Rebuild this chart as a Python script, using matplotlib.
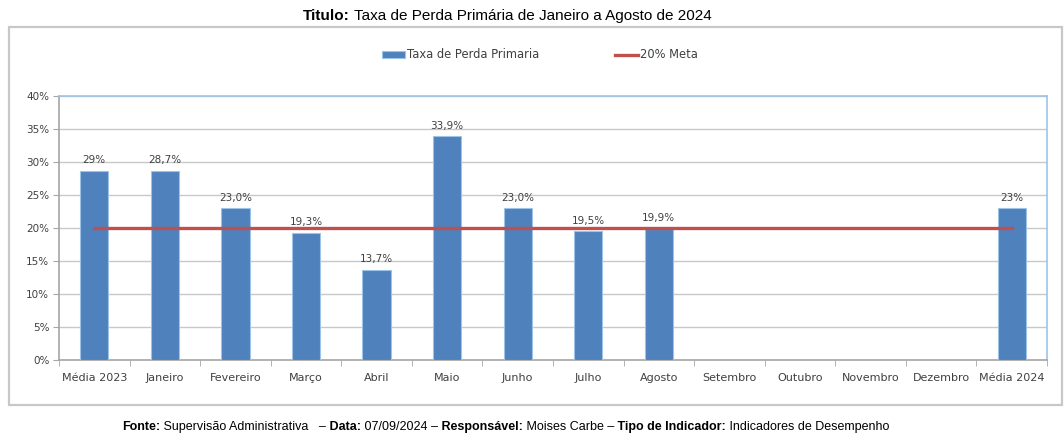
import numpy as np
import matplotlib
matplotlib.use("Agg")
import matplotlib.pyplot as plt
from matplotlib.patches import Rectangle

categorias = ["Média 2023", "Janeiro", "Fevereiro", "Março", "Abril", "Maio", "Junho",
              "Julho", "Agosto", "Setembro", "Outubro", "Novembro", "Dezembro", "Média 2024"]
taxa_perda = [28.7, 28.7, 23.0, 19.3, 13.7, 33.9, 23.0, 19.5, 19.9,
              np.nan, np.nan, np.nan, np.nan, 23.0]
eh_media = [True] + [False] * 12 + [True]
meta = [20] * 14
y_ticks = [0, 5, 10, 15, 20, 25, 30, 35, 40]

AZUL = "#4F81BD"
VERMELHO = "#C0504D"
CINZA_TXT = "#404040"
FONTE_TXT = ["Liberation Sans", "DejaVu Sans"]

plt.rcParams["font.family"] = ["DejaVu Sans"]

fig = plt.figure(figsize=(10.64, 4.36), dpi=100)

# moldura externa do grafico
W, H = 1064, 436
fig.patches.append(Rectangle((9 / W, 1 - 405 / H), 1053 / W, 378 / H,
                             transform=fig.transFigure, fill=False,
                             edgecolor="#C8C8C8", linewidth=1.6))

ax = fig.add_axes([59 / W, 1 - 360 / H, 988 / W, 264 / H])
x = np.arange(len(categorias))

bars = ax.bar(x, taxa_perda, width=0.4, color=AZUL, edgecolor="#9DC3E6",
              linewidth=0.8, label="Taxa de Perda Primaria", zorder=3)
linha, = ax.plot(x, meta, color=VERMELHO, linewidth=2.4, label="20% Meta", zorder=4)

for xi, v, media in zip(x, taxa_perda, eh_media):
    if np.isnan(v):
        continue
    txt = f"{v:.0f}%" if media else f"{v:.1f}%".replace(".", ",")
    ax.text(xi, v + 0.8, txt, ha="center", va="bottom", fontsize=7.5, color=CINZA_TXT)

ax.set_xlim(-0.5, len(categorias) - 0.5)
ax.set_ylim(0, 40)
ax.set_yticks(y_ticks)
ax.set_yticklabels([f"{t}%" for t in y_ticks])
ax.set_xticks(x)
ax.set_xticklabels(categorias)
ax.set_xticks(np.arange(-0.5, len(categorias)), minor=True)
ax.tick_params(axis="x", which="major", length=0, pad=9, labelsize=8, labelcolor=CINZA_TXT)
ax.tick_params(axis="x", which="minor", length=4, color="#A6A6A6", direction="out")
ax.tick_params(axis="y", length=4, color="#A6A6A6", labelsize=7.5, labelcolor=CINZA_TXT, pad=3)

ax.grid(axis="y", color="#C8C8C8", linewidth=1.0, zorder=0)
ax.set_axisbelow(True)
ax.spines["left"].set_color("#A6A6A6")
ax.spines["bottom"].set_color("#A6A6A6")
ax.spines["top"].set_color("#9DC3E6")
ax.spines["right"].set_color("#9DC3E6")
for s in ax.spines.values():
    s.set_linewidth(1.2)

fig.legend([bars, linha], ["Taxa de Perda Primaria", "20% Meta"],
           loc="center left", bbox_to_anchor=(382 / W, 1 - 55 / H), ncol=2,
           frameon=False, fontsize=8.3, columnspacing=6.5, handlelength=2.0,
           handleheight=0.6, handletextpad=0.2, labelcolor=CINZA_TXT,
           borderaxespad=0, borderpad=0)

# titulo
t1 = fig.text(303 / W, 1 - 16 / H, "Titulo:", fontsize=11, fontweight="bold",
              family=FONTE_TXT, va="center")
ax.annotate(" Taxa de Perda Primária de Janeiro a Agosto de 2024", xy=(1, 0.5),
            xycoords=t1, va="center", ha="left", fontsize=11,
            family=FONTE_TXT, annotation_clip=False)

# rodape
partes = [("Fonte:", True), (" Supervisão Administrativa   –", False),
          (" Data:", True), (" 07/09/2024 –", False),
          (" Responsável:", True), (" Moises Carbe –", False),
          (" Tipo de Indicador:", True), (" Indicadores de Desempenho", False)]
anterior = None
for texto, negrito in partes:
    kw = dict(fontsize=9, fontweight="bold" if negrito else "normal",
              family=FONTE_TXT, va="center")
    if anterior is None:
        anterior = fig.text(122 / W, 1 - 427 / H, texto, **kw)
    else:
        anterior = ax.annotate(texto, xy=(1, 0.5), xycoords=anterior, ha="left",
                               annotation_clip=False, **kw)

fig.savefig("out.png", dpi=100)
